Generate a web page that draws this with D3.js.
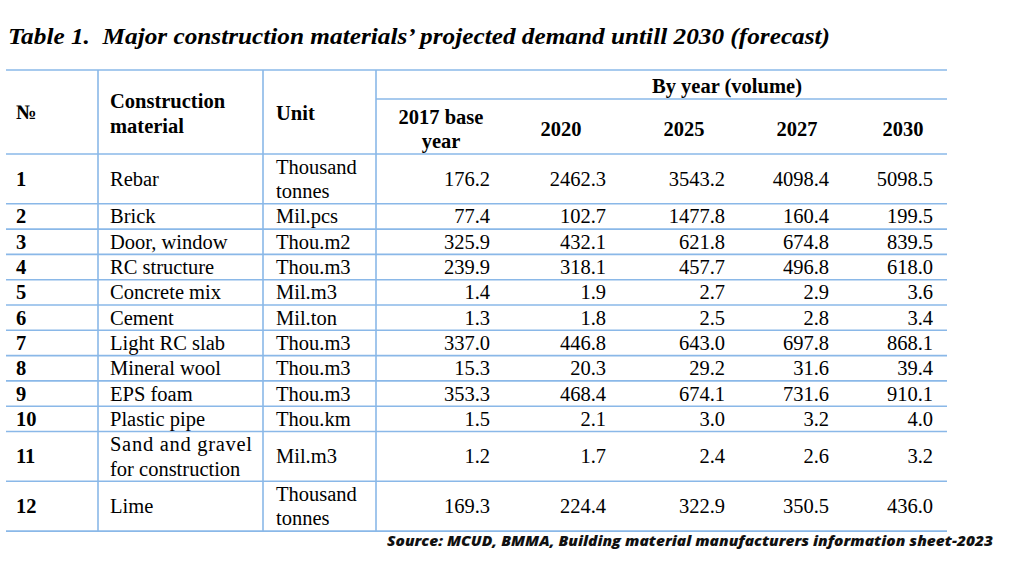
<!DOCTYPE html>
<html><head><meta charset="utf-8">
<script src="https://cdn.jsdelivr.net/npm/d3@7"></script>
<style>
html,body{margin:0;padding:0;background:#fff;}
svg{display:block;}
</style></head>
<body>
<svg id="c" width="1024" height="563"></svg>
<script>
// ---- data ----
const titleText = "Table 1.\u00a0 Major construction materials\u2019 projected demand untill 2030 (forecast)";
const sourceText = "Source: MCUD, BMMA, Building material manufacturers information sheet-2023";
const numbers = [1,2,3,4,5,6,7,8,9,10,11,12];
const materials = ["Rebar","Brick","Door, window","RC structure","Concrete mix","Cement","Light RC slab","Mineral wool","EPS foam","Plastic pipe","Sand and gravel for construction","Lime"];
const units = ["Thousand tonnes","Mil.pcs","Thou.m2","Thou.m3","Mil.m3","Mil.ton","Thou.m3","Thou.m3","Thou.m3","Thou.km","Mil.m3","Thousand tonnes"];
const years = ["2017","2020","2025","2027","2030"];
const yearLabels = [["2017 base","year"],["2020"],["2025"],["2027"],["2030"]];
const v2017 = [176.2,77.4,325.9,239.9,1.4,1.3,337.0,15.3,353.3,1.5,1.2,169.3];
const v2020 = [2462.3,102.7,432.1,318.1,1.9,1.8,446.8,20.3,468.4,2.1,1.7,224.4];
const v2025 = [3543.2,1477.8,621.8,457.7,2.7,2.5,643.0,29.2,674.1,3.0,2.4,322.9];
const v2027 = [4098.4,160.4,674.8,496.8,2.9,2.8,697.8,31.6,731.6,3.2,2.6,350.5];
const v2030 = [5098.5,199.5,839.5,618.0,3.6,3.4,868.1,39.4,910.1,4.0,3.2,436.0];
const headNo = "\u2116", headMat = ["Construction","material"], headUnit = "Unit", headGroup = "By year (volume)";

(function(){
const values = [v2017,v2020,v2025,v2027,v2030];
const svg = d3.select("#c");
const serif = "'Liberation Serif','Times New Roman',serif";
const fs = 20.5;
const lineColor = "#8ab8e8";
const fmt = d3.format(".1f");

// layout
const L = 6, R = 947, tableTop = 70, sub = 99, headBottom = 154;
const colX = [98, 263, 376];
const numRight = d3.scaleOrdinal().domain(years).range([490, 606, 725, 829, 933]);
const headCenter = d3.scaleOrdinal().domain(years).range([441, 561, 684, 797, 903]);

const meas = svg.append("text").attr("font-family", serif).attr("font-size", fs).attr("visibility","hidden");
function w(t){ meas.text(t); return meas.node().getComputedTextLength(); }
function wrap(t, maxW){
  const words = t.split(" "); const lines = []; let cur = "";
  words.forEach(word => {
    const trial = cur ? cur + " " + word : word;
    if (cur && w(trial) > maxW) { lines.push(cur); cur = word; } else cur = trial;
  });
  lines.push(cur); return lines;
}
const matLines = materials.map(m => wrap(m, 146));
const unitLines = units.map(u => wrap(u, 98));
meas.remove();

const lh = 24.5;
const rowH = d3.range(12).map(i => Math.max(matLines[i].length, unitLines[i].length) * lh + 0.8);
const rowTop = [];
let acc = headBottom;
rowH.forEach((h) => { rowTop.push(acc); acc += h; });
const tableBottom = acc;

// title
svg.append("text").attr("x", 8).attr("y", 44)
  .attr("font-family", serif).attr("font-size", 23).attr("font-weight","bold").attr("font-style","italic")
  .attr("fill","#000").attr("textLength", 822).attr("lengthAdjust","spacingAndGlyphs").text(titleText);

// grid lines
const g = svg.append("g").attr("stroke", lineColor).attr("stroke-width", 1.6);
const hLines = [tableTop, headBottom].concat(rowTop.slice(1), [tableBottom]);
g.selectAll("line.h").data(hLines).join("line").attr("class","h")
  .attr("x1", L).attr("x2", R).attr("y1", d=>d).attr("y2", d=>d);
g.append("line").attr("x1", colX[2]).attr("x2", R).attr("y1", sub).attr("y2", sub);
g.selectAll("line.v").data(colX).join("line").attr("class","v")
  .attr("x1", d=>d).attr("x2", d=>d).attr("y1", tableTop).attr("y2", tableBottom);

// header
const hd = svg.append("g").attr("font-family", serif).attr("font-size", fs).attr("font-weight","bold").attr("fill","#000");
hd.append("text").attr("x", 16).attr("y", 119).text(headNo);
headMat.forEach((t,i)=> hd.append("text").attr("x", 110).attr("y", 108 + i*lh).text(t));
hd.append("text").attr("x", 276).attr("y", 120).text(headUnit);
hd.append("text").attr("x", 727).attr("y", 93).attr("text-anchor","middle").text(headGroup);
years.forEach((y,j) => {
  const ls = yearLabels[j];
  const y0 = 136 - (ls.length-1) * lh/2;
  ls.forEach((t,k) => hd.append("text").attr("x", headCenter(y)).attr("y", y0 + k*lh).attr("text-anchor","middle").text(t));
});

// body
const body = svg.append("g").attr("font-family", serif).attr("font-size", fs).attr("fill","#000");
const base = 7;
numbers.forEach((n,i) => {
  const cy = rowTop[i] + rowH[i]/2;
  body.append("text").attr("x", 16).attr("y", cy + base).attr("font-weight","bold").text(n);
  const ml = matLines[i];
  ml.forEach((t,k) => {
    const tx = body.append("text").attr("x", 110).attr("y", cy + base + (k - (ml.length-1)/2) * lh).text(t);
    if (ml.length > 1 && k < ml.length-1) tx.attr("textLength", 142).attr("lengthAdjust","spacing");
  });
  const ul = unitLines[i];
  ul.forEach((t,k) => body.append("text").attr("x", 276).attr("y", cy + base + (k - (ul.length-1)/2) * lh).text(t));
  years.forEach((y,j) => {
    body.append("text").attr("x", numRight(y)).attr("y", cy + base).attr("text-anchor","end").text(fmt(values[j][i]));
  });
});

// source
svg.append("text").attr("x", 387).attr("y", 546)
  .attr("font-family","'Open Sans',sans-serif").attr("font-size", 14.5).attr("font-weight",800).attr("font-style","italic")
  .attr("fill","#111").attr("textLength", 606).attr("lengthAdjust","spacingAndGlyphs").text(sourceText);
})();
</script>
</body></html>
